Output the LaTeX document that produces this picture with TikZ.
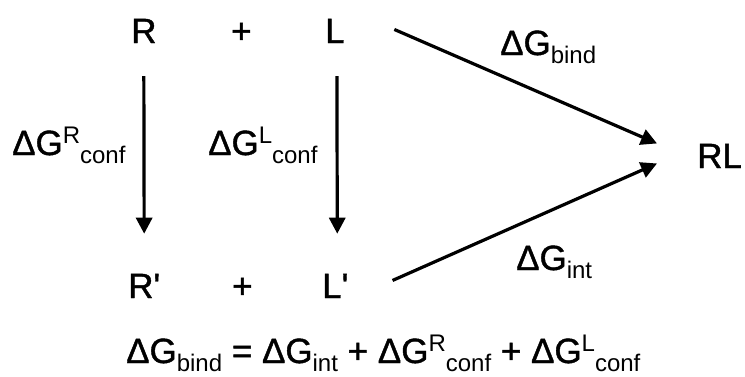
\documentclass[tikz,border=0pt]{standalone}
\usepackage{fontspec}
\setmainfont{Liberation Sans}
\newfontfamily\heavy{Liberation Sans}[FakeBold=1.2]
\usetikzlibrary{arrows.meta}
\newcommand{\dG}{ΔG}
\newcommand{\prm}{\char"0027}
\newcommand{\gsub}[1]{\raisebox{-8pt}{\fontsize{24}{24}\selectfont\normalfont\fontsize{24}{24}\selectfont #1}}
\newcommand{\gsup}[1]{\raisebox{12pt}{\fontsize{24}{24}\selectfont\normalfont\fontsize{24}{24}\selectfont #1}}
\tikzset{
  term/.style={inner sep=0pt, anchor=base west, font=\heavy\fontsize{35}{38}\selectfont},
  flow/.style={-{Triangle[length=16pt,width=16pt]}, line width=3.2pt, draw=black}
}
\begin{document}
\begin{tikzpicture}[x=1pt, y=-1pt]
 \useasboundingbox (0,0) rectangle (745,376);
 \node[term] (R) at (131,43) {R};
 \node[term] (p1) at (231,43) {+};
 \node[term] (L) at (325,43) {L};
 \node[term] (Rp) at (128,298) {R\prm};
 \node[term] (p2) at (232,298) {+};
 \node[term] (Lp) at (322,298) {L\prm};
 \node[term] (RL) at (697,168) {RL};
 \node[term] (gR) at (12,155) {\dG\gsup{R}\gsub{conf}};
 \node[term] (gL) at (208,155) {\dG\gsup{L}\gsub{conf}};
 \node[term] (gb) at (500,55) {\dG\gsub{bind}};
 \node[term] (gi) at (516,270) {\dG\gsub{int}};
 \node[term] (eq) at (126,363) {\dG\gsub{bind} = \dG\gsub{int} + \dG\gsup{R}\gsub{conf} + \dG\gsup{L}\gsub{conf}};
 \draw[flow] ([shift={(0,33)}]R.south) -- ([shift={(0,-40)}]Rp.north);
 \draw[flow] ([shift={(2,33)}]L.south) -- ([shift={(2,-40)}]Lp.north);
 \draw[flow] ([shift={(49.5,-1.5)}]L.east) -- ([shift={(-40,-12.5)}]RL.west);
 \draw[flow] ([shift={(44,-5.5)}]Lp.east) -- ([shift={(-40,7.5)}]RL.west);
\end{tikzpicture}
\end{document}
